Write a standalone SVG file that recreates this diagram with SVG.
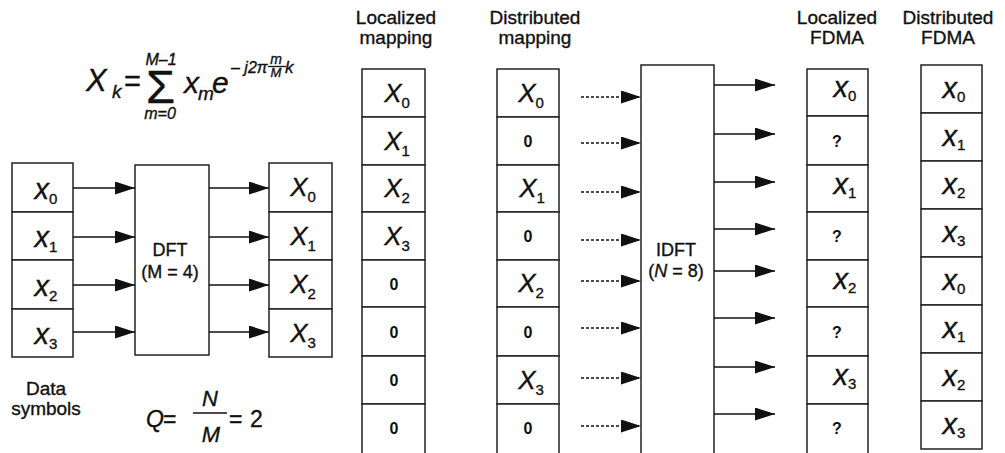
<svg xmlns="http://www.w3.org/2000/svg" width="1005" height="453" viewBox="0 0 1005 453">
<style>
.box{fill:#fff;stroke:#222;stroke-width:1.5}
.conn{stroke:#111;stroke-width:1.4;fill:none}
.dash{stroke-dasharray:3 2}
text{font-family:"Liberation Sans",Arial,sans-serif;fill:#111;stroke:#111;stroke-width:0.35}
.it{font-style:italic}
.lbl{font-size:19px;text-anchor:middle}
.cap{font-size:26px;text-anchor:middle}
.low{font-size:29px;text-anchor:middle}
.sub{font-size:15px;font-style:normal}
.dig{font-size:16px;text-anchor:middle;font-weight:bold;stroke-width:0}
.blk{font-size:18px;text-anchor:middle}
</style>
<defs>
<marker id="ah" markerUnits="userSpaceOnUse" markerWidth="20" markerHeight="13" refX="20" refY="6.5" orient="auto">
<path d="M0,0 L20,6.5 L0,13 z" fill="#111"/>
</marker>
</defs>

<g id="formula-dft">
<text x="86" y="91" font-size="31" class="it">X</text>
<text x="112" y="98" font-size="19" class="it">k</text>
<text x="124" y="91" font-size="29">=</text>
<text x="146" y="103" font-size="47">Σ</text>
<text x="161" y="65" font-size="16" text-anchor="middle" class="it">M–1</text>
<text x="160" y="119" font-size="16" text-anchor="middle" class="it">m=0</text>
<text x="184" y="93" font-size="30" class="it">x</text>
<text x="198" y="100" font-size="19" class="it">m</text>
<text x="212" y="93" font-size="30" class="it">e</text>
<text x="231" y="73" font-size="16" class="it">– j2π</text>
<text x="276" y="64" font-size="14" text-anchor="middle" class="it">m</text>
<line x1="268" y1="66.5" x2="286" y2="66.5" stroke="#111" stroke-width="1.3"/>
<text x="276" y="77" font-size="13" text-anchor="middle" class="it">M</text>
<text x="285" y="73" font-size="17" class="it">k</text>
</g>

<g id="formula-q">
<text x="146" y="427" font-size="23" class="it">Q</text>
<text x="163" y="427" font-size="23">=</text>
<text x="210" y="406" font-size="22" text-anchor="middle" class="it">N</text>
<line x1="193" y1="413" x2="227" y2="413" stroke="#111" stroke-width="1.4"/>
<text x="211" y="442" font-size="22" text-anchor="middle" class="it">M</text>
<text x="229" y="427" font-size="23">=</text>
<text x="250" y="427" font-size="23">2</text>
</g>

<g id="label-data">
<text class="lbl" x="46" y="395">Data</text>
<text class="lbl" x="46" y="415">symbols</text>
</g>
<g id="label-localized-mapping">
<text class="lbl" x="396" y="24">Localized</text>
<text class="lbl" x="396" y="44">mapping</text>
</g>
<g id="label-distributed-mapping">
<text class="lbl" x="535" y="24">Distributed</text>
<text class="lbl" x="535" y="44">mapping</text>
</g>
<g id="label-localized-fdma">
<text class="lbl" x="837" y="24">Localized</text>
<text class="lbl" x="837" y="44">FDMA</text>
</g>
<g id="label-distributed-fdma">
<text class="lbl" x="948" y="24">Distributed</text>
<text class="lbl" x="948" y="44">FDMA</text>
</g>

<g id="data-symbols">
<rect class="box" x="12" y="163" width="61" height="49"/>
<rect class="box" x="12" y="212" width="61" height="48"/>
<rect class="box" x="12" y="260" width="61" height="49"/>
<rect class="box" x="12" y="309" width="61" height="48"/>
<text class="low" x="46" y="198.5"><tspan class="it">x</tspan><tspan class="sub" dy="5">0</tspan></text>
<text class="low" x="46" y="247"><tspan class="it">x</tspan><tspan class="sub" dy="5">1</tspan></text>
<text class="low" x="46" y="295.5"><tspan class="it">x</tspan><tspan class="sub" dy="5">2</tspan></text>
<text class="low" x="46" y="344"><tspan class="it">x</tspan><tspan class="sub" dy="5">3</tspan></text>
</g>

<g id="dft">
<rect class="box" x="135" y="165" width="74" height="190"/>
<text class="blk" x="170" y="256">DFT</text>
<text class="blk" x="170" y="278">(M = 4)</text>
</g>

<g id="dft-output">
<rect class="box" x="269" y="163" width="63" height="49"/>
<rect class="box" x="269" y="212" width="63" height="48"/>
<rect class="box" x="269" y="260" width="63" height="49"/>
<rect class="box" x="269" y="309" width="63" height="48"/>
<text class="cap" x="303" y="196"><tspan class="it">X</tspan><tspan class="sub" dy="6">0</tspan></text>
<text class="cap" x="303" y="244.5"><tspan class="it">X</tspan><tspan class="sub" dy="6">1</tspan></text>
<text class="cap" x="303" y="293"><tspan class="it">X</tspan><tspan class="sub" dy="6">2</tspan></text>
<text class="cap" x="303" y="341.5"><tspan class="it">X</tspan><tspan class="sub" dy="6">3</tspan></text>
</g>

<g id="localized-mapping">
<rect class="box" x="362" y="69" width="63" height="48"/>
<rect class="box" x="362" y="117" width="63" height="48"/>
<rect class="box" x="362" y="165" width="63" height="47"/>
<rect class="box" x="362" y="212" width="63" height="48"/>
<rect class="box" x="362" y="260" width="63" height="47"/>
<rect class="box" x="362" y="307" width="63" height="49"/>
<rect class="box" x="362" y="356" width="63" height="48"/>
<rect class="box" x="362" y="404" width="63" height="55"/>
<text class="cap" x="397" y="101.5"><tspan class="it">X</tspan><tspan class="sub" dy="6">0</tspan></text>
<text class="cap" x="397" y="149.5"><tspan class="it">X</tspan><tspan class="sub" dy="6">1</tspan></text>
<text class="cap" x="397" y="197"><tspan class="it">X</tspan><tspan class="sub" dy="6">2</tspan></text>
<text class="cap" x="397" y="244.5"><tspan class="it">X</tspan><tspan class="sub" dy="6">3</tspan></text>
<text class="dig" x="394" y="289.5">0</text>
<text class="dig" x="394" y="337.5">0</text>
<text class="dig" x="394" y="386">0</text>
<text class="dig" x="394" y="434">0</text>
</g>

<g id="distributed-mapping">
<rect class="box" x="497" y="69" width="62" height="48"/>
<rect class="box" x="497" y="117" width="62" height="48"/>
<rect class="box" x="497" y="165" width="62" height="47"/>
<rect class="box" x="497" y="212" width="62" height="48"/>
<rect class="box" x="497" y="260" width="62" height="47"/>
<rect class="box" x="497" y="307" width="62" height="49"/>
<rect class="box" x="497" y="356" width="62" height="48"/>
<rect class="box" x="497" y="404" width="62" height="55"/>
<text class="cap" x="531" y="101.5"><tspan class="it">X</tspan><tspan class="sub" dy="6">0</tspan></text>
<text class="dig" x="528" y="147">0</text>
<text class="cap" x="532" y="197"><tspan class="it">X</tspan><tspan class="sub" dy="6">1</tspan></text>
<text class="dig" x="528" y="242">0</text>
<text class="cap" x="531" y="292"><tspan class="it">X</tspan><tspan class="sub" dy="6">2</tspan></text>
<text class="dig" x="528" y="337.5">0</text>
<text class="cap" x="531" y="388.5"><tspan class="it">X</tspan><tspan class="sub" dy="6">3</tspan></text>
<text class="dig" x="528" y="434">0</text>
</g>

<g id="idft">
<rect class="box" x="641" y="65" width="73" height="400"/>
<text class="blk" x="676" y="256">IDFT</text>
<text class="blk" x="676" y="277">(<tspan class="it">N</tspan> = 8)</text>
</g>

<g id="localized-fdma">
<rect class="box" x="807" y="69" width="61" height="47"/>
<rect class="box" x="807" y="116" width="61" height="49"/>
<rect class="box" x="807" y="165" width="61" height="47"/>
<rect class="box" x="807" y="212" width="61" height="48"/>
<rect class="box" x="807" y="260" width="61" height="47"/>
<rect class="box" x="807" y="307" width="61" height="49"/>
<rect class="box" x="807" y="356" width="61" height="48"/>
<rect class="box" x="807" y="404" width="61" height="55"/>
<text class="low" x="845" y="97"><tspan class="it">x</tspan><tspan class="sub" dy="4">0</tspan></text>
<text class="dig" x="837" y="146.5">?</text>
<text class="low" x="845" y="193.5"><tspan class="it">x</tspan><tspan class="sub" dy="4">1</tspan></text>
<text class="dig" x="837" y="242">?</text>
<text class="low" x="845" y="288.5"><tspan class="it">x</tspan><tspan class="sub" dy="4">2</tspan></text>
<text class="dig" x="837" y="337.5">?</text>
<text class="low" x="845" y="385"><tspan class="it">x</tspan><tspan class="sub" dy="4">3</tspan></text>
<text class="dig" x="837" y="434">?</text>
</g>

<g id="distributed-fdma">
<rect class="box" x="921" y="65" width="61" height="48"/>
<rect class="box" x="921" y="113" width="61" height="48"/>
<rect class="box" x="921" y="161" width="61" height="48"/>
<rect class="box" x="921" y="209" width="61" height="48"/>
<rect class="box" x="921" y="257" width="61" height="48"/>
<rect class="box" x="921" y="305" width="61" height="48"/>
<rect class="box" x="921" y="353" width="61" height="48"/>
<rect class="box" x="921" y="401" width="61" height="48"/>
<text class="low" x="954" y="98"><tspan class="it">x</tspan><tspan class="sub" dy="4">0</tspan></text>
<text class="low" x="954" y="146"><tspan class="it">x</tspan><tspan class="sub" dy="4">1</tspan></text>
<text class="low" x="954" y="194"><tspan class="it">x</tspan><tspan class="sub" dy="4">2</tspan></text>
<text class="low" x="954" y="242"><tspan class="it">x</tspan><tspan class="sub" dy="4">3</tspan></text>
<text class="low" x="954" y="290"><tspan class="it">x</tspan><tspan class="sub" dy="4">0</tspan></text>
<text class="low" x="954" y="338"><tspan class="it">x</tspan><tspan class="sub" dy="4">1</tspan></text>
<text class="low" x="954" y="386"><tspan class="it">x</tspan><tspan class="sub" dy="4">2</tspan></text>
<text class="low" x="954" y="434"><tspan class="it">x</tspan><tspan class="sub" dy="4">3</tspan></text>
</g>

<g id="connectors" class="conn">
<line x1="73" y1="188" x2="135" y2="188" marker-end="url(#ah)"/>
<line x1="73" y1="237" x2="135" y2="237" marker-end="url(#ah)"/>
<line x1="73" y1="285" x2="135" y2="285" marker-end="url(#ah)"/>
<line x1="73" y1="332" x2="135" y2="332" marker-end="url(#ah)"/>
<line x1="209" y1="188" x2="269" y2="188" marker-end="url(#ah)"/>
<line x1="209" y1="237" x2="269" y2="237" marker-end="url(#ah)"/>
<line x1="209" y1="285" x2="269" y2="285" marker-end="url(#ah)"/>
<line x1="209" y1="332" x2="269" y2="332" marker-end="url(#ah)"/>
<line class="dash" x1="581" y1="97" x2="641" y2="97" marker-end="url(#ah)"/>
<line class="dash" x1="581" y1="143" x2="641" y2="143" marker-end="url(#ah)"/>
<line class="dash" x1="581" y1="192" x2="641" y2="192" marker-end="url(#ah)"/>
<line class="dash" x1="581" y1="240" x2="641" y2="240" marker-end="url(#ah)"/>
<line class="dash" x1="581" y1="281" x2="641" y2="281" marker-end="url(#ah)"/>
<line class="dash" x1="581" y1="328" x2="641" y2="328" marker-end="url(#ah)"/>
<line class="dash" x1="581" y1="378" x2="641" y2="378" marker-end="url(#ah)"/>
<line class="dash" x1="581" y1="426" x2="641" y2="426" marker-end="url(#ah)"/>
<line x1="714" y1="85" x2="775" y2="85" marker-end="url(#ah)"/>
<line x1="714" y1="134" x2="775" y2="134" marker-end="url(#ah)"/>
<line x1="714" y1="182" x2="775" y2="182" marker-end="url(#ah)"/>
<line x1="714" y1="229" x2="775" y2="229" marker-end="url(#ah)"/>
<line x1="714" y1="271" x2="775" y2="271" marker-end="url(#ah)"/>
<line x1="714" y1="318" x2="775" y2="318" marker-end="url(#ah)"/>
<line x1="714" y1="367" x2="775" y2="367" marker-end="url(#ah)"/>
<line x1="714" y1="414" x2="775" y2="414" marker-end="url(#ah)"/>
</g>
</svg>
